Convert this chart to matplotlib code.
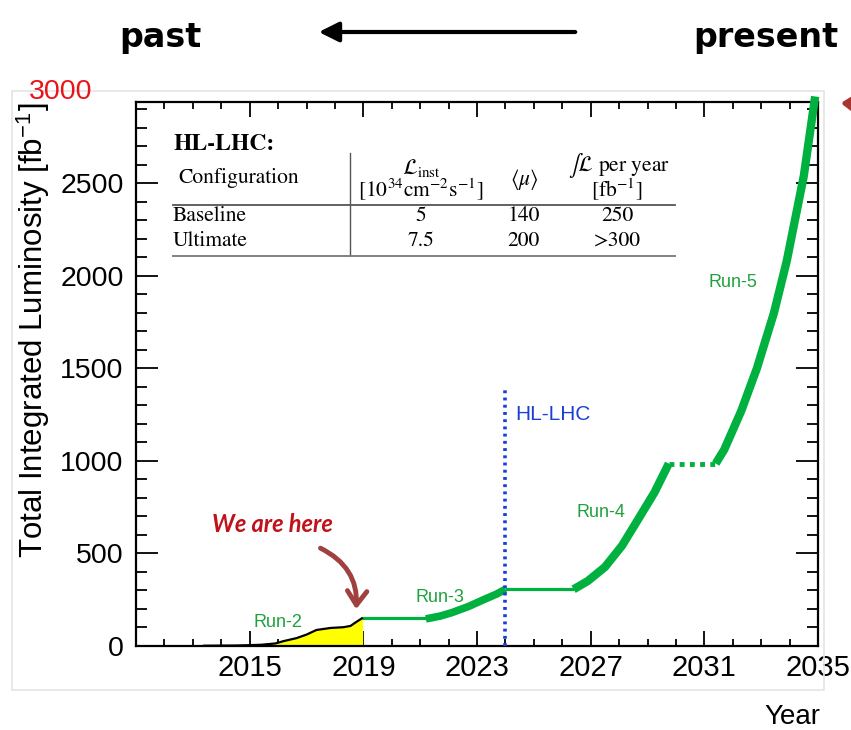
import matplotlib
matplotlib.use("Agg")
import matplotlib.pyplot as plt
from matplotlib.patches import FancyArrowPatch, Rectangle
from matplotlib.ticker import MultipleLocator

plt.rcParams['font.family'] = ['Liberation Sans', 'DejaVu Sans']
plt.rcParams['mathtext.fontset'] = 'stix'

# measured LHC Run-2 integrated luminosity
run2_year = [2013.4, 2014.5, 2015.0, 2015.4, 2015.9, 2016.2, 2016.65, 2017.0, 2017.35, 2017.85, 2018.3, 2018.55, 2018.7, 2018.95]
run2_lumi = [0, 1, 3, 5, 12, 25, 41, 60, 85, 96, 100, 107, 123, 148]

# projected luminosity
ls2_year = [2018.95, 2021.2]
ls2_lumi = [148, 148]
run3_year = [2021.2, 2021.7, 2022.1, 2022.7, 2023.25, 2023.7, 2024.0]
run3_lumi = [145, 160, 178, 212, 250, 280, 305]
ls3_year = [2024.0, 2026.4]
ls3_lumi = [305, 305]
run4_year = [2026.4, 2026.9, 2027.5, 2028.1, 2028.65, 2029.25, 2029.75]
run4_lumi = [305, 350, 425, 540, 678, 830, 985]
ls4_year = [2029.75, 2031.4]
ls4_lumi = [985, 985]
run5_year = [2031.4, 2031.7, 2032.3, 2032.85, 2033.45, 2033.9, 2034.5, 2034.9]
run5_lumi = [985, 1060, 1270, 1500, 1800, 2080, 2540, 2970]

hl_year = 2024.0
hl_top = 1400

run_labels = ['Run-2', 'Run-3', 'Run-4', 'Run-5']
run_label_pos = [(2016.0, 128), (2021.7, 258), (2027.35, 722), (2032.0, 1963)]

table_cols = ['5', '140', '250']
table_cols2 = ['7.5', '200', '>300']

W, H = 851, 730
GREEN = '#00b140'

def fx(x):
    return x / W

def fy(y):
    return 1 - y / H

fig = plt.figure(figsize=(W / 100, H / 100), dpi=100)

# faint frame of pasted plot
fig.patches.append(Rectangle((fx(12), fy(690)), fx(824) - fx(12), fy(91) - fy(690),
                             transform=fig.transFigure, fill=False, ec='#e4e4e4', lw=1.2))

ax = fig.add_axes([fx(136), fy(645.7), fx(818) - fx(136), fy(102) - fy(645.7)])
ax.set_xlim(2011, 2035)
ax.set_ylim(0, 2940)

ax.fill_between(run2_year, run2_lumi, color='yellow', zorder=2)
ax.plot(run2_year, run2_lumi, color='black', lw=1.6, zorder=3)

ax.plot(ls2_year, ls2_lumi, color=GREEN, lw=2.3, solid_capstyle='butt')
ax.plot(run3_year, run3_lumi, color=GREEN, lw=5.5, solid_capstyle='butt')
ax.plot(ls3_year, ls3_lumi, color=GREEN, lw=2.3, solid_capstyle='butt')
ax.plot(run4_year, run4_lumi, color=GREEN, lw=6, solid_capstyle='butt')
ax.plot(ls4_year, ls4_lumi, color=GREEN, lw=3.5, ls=(0, (1, 1.1)))
ax.plot(run5_year, run5_lumi, color=GREEN, lw=6, solid_capstyle='butt', clip_on=False, zorder=5)

ax.plot([hl_year, hl_year], [0, hl_top], color='#1a3fd6', lw=2.6, ls=(0, (0.8, 1.2)), zorder=4)
ax.text(hl_year + 0.35, 1250, 'HL-LHC', color='#1a3fd6', fontsize=15, va='center')

for lab, (xx, yy) in zip(run_labels, run_label_pos):
    ax.text(xx, yy, lab, color='#1fa23c', fontsize=13, ha='center', va='center')

ax.xaxis.set_major_locator(MultipleLocator(4))
ax.xaxis.set_minor_locator(MultipleLocator(1))
ax.yaxis.set_major_locator(MultipleLocator(500))
ax.yaxis.set_minor_locator(MultipleLocator(100))
ax.set_xticks([2015, 2019, 2023, 2027, 2031, 2035])
ax.tick_params(axis='both', which='both', direction='in', top=True, right=True, color='black', width=1.3)
ax.tick_params(axis='x', which='major', length=11, labelsize=21, pad=6)
ax.tick_params(axis='x', which='minor', length=5)
ax.tick_params(axis='y', which='major', length=16, labelsize=20.5, pad=9)
ax.tick_params(axis='y', which='minor', length=8)
for s in ax.spines.values():
    s.set_linewidth(1.6)

fig.text(fx(33), fy(330), r'Total Integrated Luminosity [fb$^{\mathregular{-1}}$]',
         rotation=90, ha='center', va='center', fontsize=22.5)
fig.text(fx(792), fy(717), 'Year', ha='center', va='center', fontsize=20)
fig.text(fx(61), fy(92), '3000', color='#e8141a', ha='center', va='center', fontsize=20.5)

# past / present header
fig.text(fx(160), fy(37), 'past', ha='center', va='center', fontsize=24, fontweight='bold',
         family='DejaVu Sans')
fig.text(fx(766), fy(37), 'present', ha='center', va='center', fontsize=24, fontweight='bold',
         family='DejaVu Sans')
fig.patches.append(FancyArrowPatch((fx(578), fy(32)), (fx(316), fy(32)), transform=fig.transFigure,
                                   arrowstyle='-|>,head_length=12,head_width=6', mutation_scale=1,
                                   color='black', lw=3))

# we are here
fig.text(fx(272), fy(524), 'We are here', color='#c0121a', ha='center', va='center',
         fontsize=17, fontweight='bold', family='Lato', style='italic')
fig.patches.append(FancyArrowPatch((fx(318), fy(547)), (fx(356), fy(612)), transform=fig.transFigure,
                                   connectionstyle='arc3,rad=-0.35',
                                   arrowstyle='->,head_length=10,head_width=7', mutation_scale=1,
                                   color='#a0403f', lw=3.5))
fig.patches.append(FancyArrowPatch((fx(870), fy(122)), (fx(838), fy(103)), transform=fig.transFigure,
                                   connectionstyle='arc3,rad=0.3',
                                   arrowstyle='->,head_length=10,head_width=7', mutation_scale=1,
                                   color='#a83434', lw=3.5))

# HL-LHC table
tfont = dict(family='STIXGeneral', fontsize=15.5)
fig.text(fx(174), fy(144), 'HL-LHC:', fontweight='bold', va='center', family='STIXGeneral', fontsize=17)
fig.text(fx(178), fy(178), 'Configuration', va='center', **tfont)
fig.text(fx(421), fy(168), r'$\mathcal{L}_{\mathrm{inst}}$', ha='center', va='center', **tfont)
fig.text(fx(421), fy(190), r'$[10^{34}\mathrm{cm}^{-2}\mathrm{s}^{-1}]$', ha='center', va='center', **tfont)
fig.text(fx(524), fy(180), r'$\langle\mu\rangle$', ha='center', va='center', **tfont)
fig.text(fx(619), fy(165), r'$\int\mathcal{L}$ per year', ha='center', va='center', **tfont)
fig.text(fx(617), fy(190), r'$[\mathrm{fb}^{-1}]$', ha='center', va='center', **tfont)
fig.text(fx(173), fy(216), 'Baseline', va='center', **tfont)
fig.text(fx(173), fy(241), 'Ultimate', va='center', **tfont)
for xx, a, b in zip([421, 524, 617], table_cols, table_cols2):
    fig.text(fx(xx), fy(216), a, ha='center', va='center', **tfont)
    fig.text(fx(xx), fy(241), b, ha='center', va='center', **tfont)
fig.lines.append(plt.Line2D([fx(350), fx(350)], [fy(153), fy(255)], transform=fig.transFigure,
                            color='#555555', lw=1))
fig.lines.append(plt.Line2D([fx(173), fx(675)], [fy(205), fy(205)], transform=fig.transFigure,
                            color='#555555', lw=1.3))
fig.lines.append(plt.Line2D([fx(173), fx(675)], [fy(256), fy(256)], transform=fig.transFigure,
                            color='#777777', lw=1.3))

fig.savefig('out.png', dpi=100)
